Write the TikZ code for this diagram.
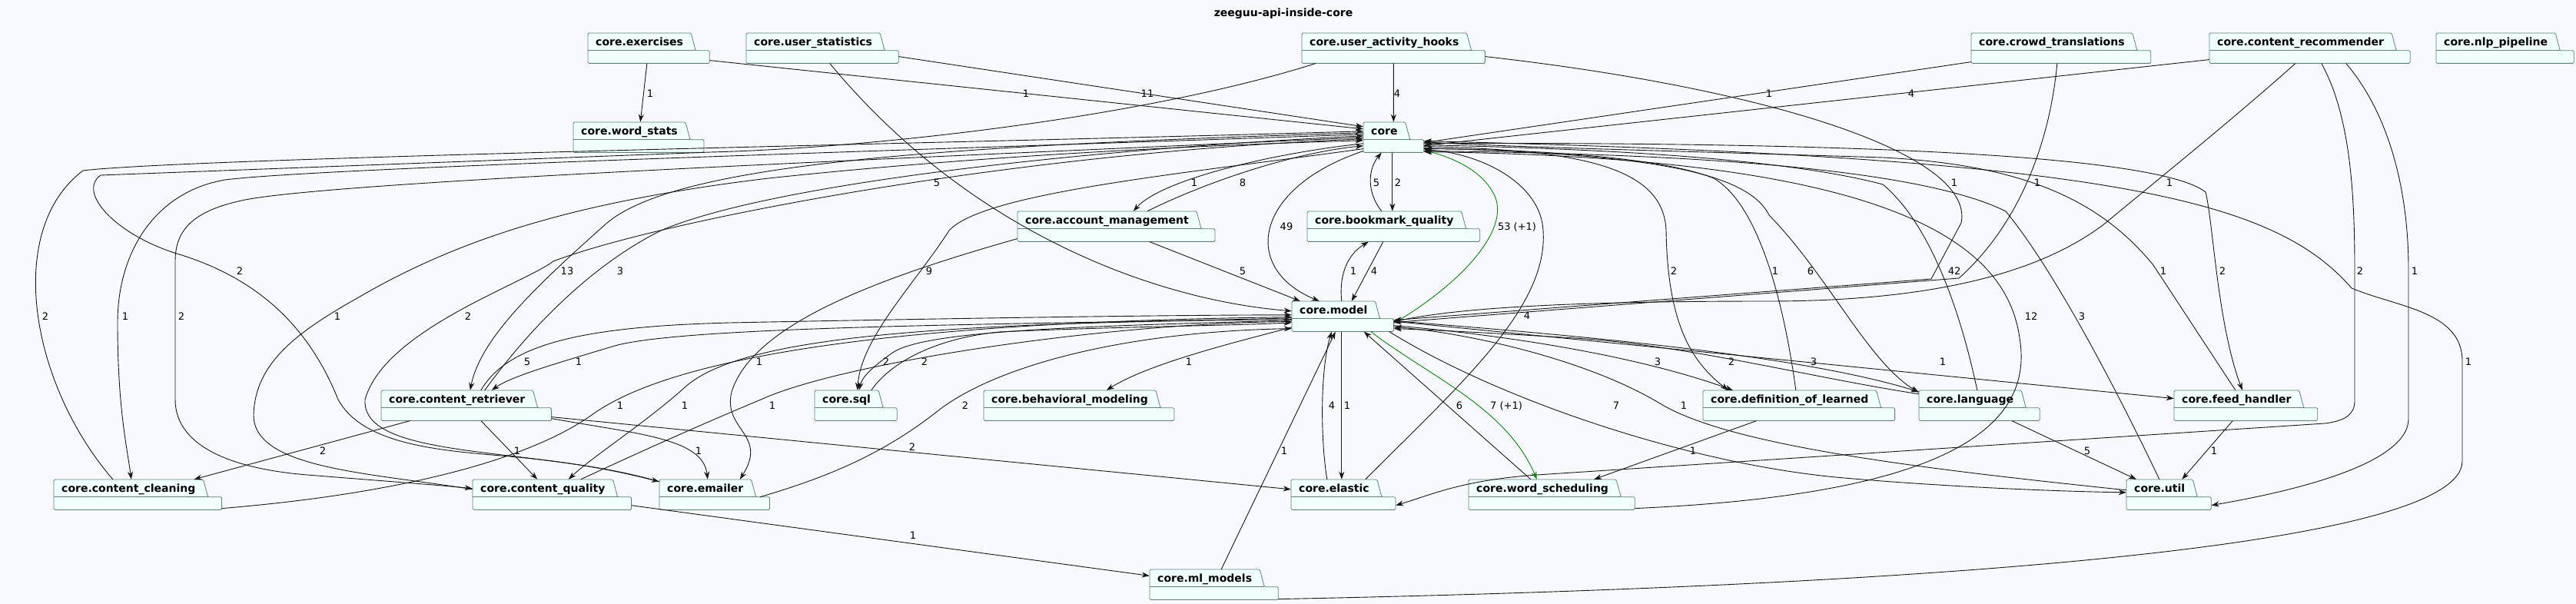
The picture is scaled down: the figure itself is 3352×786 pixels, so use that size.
\documentclass[tikz,border=0pt]{standalone}
\usepackage{fontspec}
\setmainfont{DejaVu Sans}
\usetikzlibrary{arrows.meta,calc,fit}
\definecolor{bgc}{RGB}{248,249,254}
\definecolor{pkgfill}{RGB}{241,255,254}
\definecolor{pkgline}{RGB}{96,128,112}
\definecolor{edgec}{RGB}{24,24,24}
\definecolor{grn}{RGB}{16,128,16}
\pgfdeclarelayer{bgl}
\pgfdeclarelayer{pkgl}
\pgfsetlayers{bgl,pkgl,main}
\tikzset{
  pkgtab/.style={font=\bfseries\fontsize{14}{16}\selectfont, inner xsep=10pt, inner ysep=0pt,
    minimum height=22.4pt, text height=12pt, text depth=2pt, anchor=north west},
  pkgshape/.style={fill=pkgfill, draw=pkgline, line width=0.8pt, rounded corners=1.5pt},
  pkgsep/.style={draw=pkgline, line width=0.8pt},
  dep/.style={draw=edgec, line width=0.9pt, -{Stealth[length=10pt,width=7pt,inset=3pt]}},
  gdep/.style={dep, draw=grn},
  lbl/.style={font=\fontsize{13}{15}\selectfont, inner sep=0pt, text=black}
}
\newcommand\mkpkg[4]{%
  \node[pkgtab] (#1-t) at (#2,#3) {#4};
  \coordinate (#1-sr) at ($(#1-t.south east)+(6,0)$);
  \coordinate (#1-br) at ($(#1-t.south east)+(24,16.6)$);
  \begin{pgfonlayer}{pkgl}
    \path[pkgshape] (#1-t.north west) -- (#1-t.north east) -- (#1-sr) -- ($(#1-sr)+(18,0)$)
      -- (#1-br) -- (#1-t.south west |- #1-br) -- cycle;
    \draw[pkgsep] (#1-t.south west) -- (#1-sr);
  \end{pgfonlayer}
  \node[fit=(#1-t)(#1-br), inner sep=0pt] (#1) {};
}
\begin{document}
\begin{tikzpicture}[x=1pt,y=-1pt]
\useasboundingbox (0,0) rectangle (3352,786);
\begin{pgfonlayer}{bgl}
  \fill[bgc] (0,0) rectangle (3352,786);
\end{pgfonlayer}

\node[font=\bfseries\fontsize{14}{16}\selectfont] (title) at (1670,18) {zeeguu-api-inside-core};

% packages
\mkpkg{exercises}{765}{43}{core.exercises}
\mkpkg{ustats}{971}{43}{core.user\_statistics}
\mkpkg{uahooks}{1694}{43}{core.user\_activity\_hooks}
\mkpkg{crowd}{2565}{43}{core.crowd\_translations}
\mkpkg{recommender}{2875}{43}{core.content\_recommender}
\mkpkg{nlp}{3170}{43}{core.nlp\_pipeline}
\mkpkg{wordstats}{746}{159}{core.word\_stats}
\mkpkg{core}{1774}{159}{core}
\mkpkg{account}{1324}{275}{core.account\_management}
\mkpkg{bookmark}{1701}{275}{core.bookmark\_quality}
\mkpkg{model}{1681}{392}{core.model}
\mkpkg{retriever}{496}{508}{core.content\_retriever}
\mkpkg{sql}{1060}{508}{core.sql}
\mkpkg{behavioral}{1280}{508}{core.behavioral\_modeling}
\mkpkg{defl}{2216}{508}{core.definition\_of\_learned}
\mkpkg{language}{2497}{508}{core.language}
\mkpkg{feed}{2829}{508}{core.feed\_handler}
\mkpkg{cleaning}{70}{624}{core.content\_cleaning}
\mkpkg{quality}{615}{624}{core.content\_quality}
\mkpkg{emailer}{858}{624}{core.emailer}
\mkpkg{elastic}{1680}{624}{core.elastic}
\mkpkg{sched}{1911}{624}{core.word\_scheduling}
\mkpkg{util}{2767}{624}{core.util}
\mkpkg{mlmodels}{1496}{741}{core.ml\_models}

% edges: top row
\draw[dep] (exercises) -- (wordstats);
\draw[dep] ($(exercises.south east)+(0,-4)$) -- ($(core.north west)+(0,9)$);
\draw[dep] ($(ustats.south east)+(0,-9)$) -- ($(core.north west)+(0,6)$);
\draw[dep] (uahooks) -- (core);
\draw[dep] ($(crowd.south west)+(0,-2)$) -- ($(core.south east)+(0,-13)$);
\draw[dep] ($(recommender.south west)+(0,-5)$) -- ($(core.south east)+(0,-9)$);
\draw[dep] ($(ustats.south west)+(109,0)$) .. controls (1260,300) and (1500,390) .. ($(model.north west)+(0,13)$);
\draw[dep] ($(uahooks.south west)+(18,0)$) .. controls (1500,150) and (1150,192) .. (925,198) -- (131,228)
  .. controls (100,250) and (150,305) .. (230,330) .. controls (330,360) and (400,420) .. (440,520)
  .. controls (470,575) and (560,585) .. (640,592) .. controls (740,600) and (800,612) .. ($(emailer.north west)+(0,3)$);

% far left
\draw[dep] ($(cleaning.north west)+(77,0)$) .. controls (40,500) and (5,300) .. (108,222)
  .. controls (250,205) and (1300,185) .. ($(core.north west)+(0,12)$);
\draw[dep] ($(core.north west)+(0,16)$) .. controls (1200,195) and (420,218) .. (293,234)
  .. controls (200,250) and (153,330) .. (153,420) .. controls (153,530) and (165,580) .. ($(cleaning.north west)+(101,0)$);
\draw[dep] ($(core.north west)+(0,20)$) .. controls (1200,205) and (450,235) .. (319,260)
  .. controls (250,274) and (228,300) .. (228,340) -- (228,520)
  .. controls (228,580) and (300,610) .. (400,618) .. controls (500,626) and (580,632) .. ($(quality.north west)+(0,12)$);
\draw[dep] ($(quality.north west)+(0,13)$) .. controls (480,615) and (330,610) .. (330,540)
  .. controls (332,470) and (390,430) .. (470,385) .. controls (600,310) and (750,262) .. (1000,232)
  .. controls (1300,200) and (1600,188) .. ($(core.north west)+(0,24)$);
\draw[dep] ($(emailer.north west)+(0,3)$) .. controls (700,580) and (470,600) .. (475,520)
  .. controls (500,430) and (680,370) .. (720,340) .. controls (850,290) and (1300,200) .. ($(core.north west)+(0,22)$);
\draw[dep] ($(core.north west)+(0,14)$) .. controls (1200,190) and (880,215) .. (790,290)
  .. controls (700,370) and (625,440) .. ($(retriever.north west)+(116,0)$);
\draw[dep] ($(retriever.north west)+(135,0)$) .. controls (680,440) and (760,350) .. (860,300)
  .. controls (1000,240) and (1400,195) .. ($(core.north west)+(0,18)$);

% model <-> rank 4 left
\draw[dep] ($(retriever.north west)+(130,0)$) .. controls (660,450) and (750,425) .. (950,420)
  .. controls (1200,415) and (1500,410) .. ($(model.north west)+(0,18)$);
\draw[dep] ($(model.north west)+(0,22)$) .. controls (1400,422) and (900,422) .. (800,450)
  .. controls (720,474) and (665,490) .. ($(retriever.north west)+(144,0)$);
\draw[dep] ($(model.north west)+(0,25)$) .. controls (1400,425) and (1200,430) .. (1160,460)
  .. controls (1135,478) and (1122,490) .. ($(sql.north west)+(58,0)$);
\draw[dep] ($(sql.north west)+(74,0)$) .. controls (1160,470) and (1220,440) .. (1300,432)
  .. controls (1450,425) and (1600,424) .. ($(model.north west)+(0,28)$);
\draw[dep] ($(core.south west)+(0,-5)$) .. controls (1550,225) and (1280,250) .. (1235,300)
  .. controls (1190,370) and (1120,440) .. ($(sql.north west)+(56,0)$);
\draw[dep] ($(model.north west)+(0,34)$) .. controls (1630,440) and (1500,470) .. ($(behavioral.north west)+(160,0)$);

% core <-> rank 2, model
\draw[dep] ($(core.north west)+(0,28)$) .. controls (1650,200) and (1510,235) .. ($(account.north west)+(151,0)$);
\draw[dep] ($(account.north west)+(169,0)$) .. controls (1580,232) and (1690,198) .. ($(core.north west)+(0,31)$);
\draw[dep] ($(bookmark.north west)+(97,0)$) .. controls (1778,250) and (1780,220) .. ($(core.south west)+(24,0)$);
\draw[dep] ($(core.south west)+(38,0)$) -- ($(bookmark.north west)+(111,0)$);
\draw[dep] ($(account.south west)+(172,0)$) -- ($(model.north west)+(11,0)$);
\draw[dep] ($(model.north west)+(65,0)$) .. controls (1742,355) and (1755,330) .. ($(bookmark.south west)+(80,0)$);
\draw[dep] ($(bookmark.south west)+(99,0)$) -- ($(model.north west)+(78,0)$);
\draw[dep] ($(core.south west)+(0,-2)$) .. controls (1630,245) and (1615,350) .. ($(model.north west)+(36,0)$);
\draw[gdep] ($(model.south east)+(0,-11)$) .. controls (1900,370) and (1965,300) .. (1945,255)
  .. controls (1930,222) and (1890,205) .. ($(core.south east)+(0,-3)$);

% core <-> right rank 4/5
\draw[dep] ($(core.south east)+(0,-8)$) .. controls (2050,195) and (2165,215) .. (2168,300)
  .. controls (2170,420) and (2200,470) .. ($(defl.north west)+(33,0)$);
\draw[dep] ($(defl.north west)+(121,0)$) .. controls (2325,420) and (2295,270) .. (2230,232)
  .. controls (2150,200) and (1950,194) .. ($(core.south east)+(0,-5)$);
\draw[dep] ($(core.south east)+(0,-6)$) .. controls (2100,200) and (2270,215) .. (2302,280)
  .. controls (2380,360) and (2430,470) .. ($(language.north west)+(0,3)$);
\draw[dep] ($(language.north west)+(76,0)$) .. controls (2550,400) and (2510,290) .. (2450,240)
  .. controls (2300,200) and (2000,192) .. ($(core.south east)+(0,-10)$);
\draw[dep] ($(core.south east)+(0,-12)$) .. controls (2300,185) and (2800,195) .. (2870,250)
  .. controls (2880,290) and (2885,420) .. ($(feed.north west)+(89,0)$);
\draw[dep] ($(feed.north west)+(80,0)$) -- (2802,345) .. controls (2740,270) and (2650,215) .. (2450,205)
  .. controls (2200,197) and (1950,191) .. ($(core.south east)+(0,-14)$);
\draw[dep] ($(sched.south east)+(0,-2)$) .. controls (2500,645) and (2650,570) .. (2628,440)
  .. controls (2610,310) and (2450,205) .. ($(core.south east)+(0,-1)$);
\draw[dep] ($(util.north west)+(43,0)$) .. controls (2770,540) and (2680,360) .. (2610,275)
  .. controls (2480,210) and (2100,199) .. ($(core.south east)+(0,-2)$);
\draw[dep] ($(elastic.north west)+(97,0)$) .. controls (1900,500) and (2015,400) .. (2008,300)
  .. controls (2005,240) and (1930,200) .. ($(core.south east)+(0,-4)$);
\draw[dep] ($(mlmodels.south east)+(0,-1)$) .. controls (2400,765) and (3204,720) .. (3204,600) -- (3204,470)
  .. controls (3204,405) and (3120,400) .. (3060,375) .. controls (2960,260) and (2750,205) .. ($(core.south east)+(0,-15)$);

% top row -> model / rank 5 on the right
\draw[dep] ($(recommender.south west)+(112,0)$) .. controls (2900,160) and (2800,240) .. (2740,290)
  .. controls (2650,360) and (2500,392) .. (2300,392) .. controls (2050,392) and (1900,400) .. ($(model.south east)+(0,-13)$);
\draw[dep] ($(uahooks.south east)+(0,-9)$) .. controls (2300,115) and (2570,200) .. (2552,290) -- (2513,363)
  -- ($(model.south east)+(0,-15)$);
\draw[dep] ($(crowd.south west)+(112,0)$) .. controls (2668,180) and (2630,290) .. (2549,362)
  -- ($(model.south east)+(0,-12)$);
\draw[dep] ($(recommender.south west)+(146,0)$) .. controls (3058,150) and (3064,250) .. (3064,350) -- (3064,522)
  .. controls (3064,540) and (3050,548) .. (3025,551) -- (2000,618) .. controls (1900,625) and (1860,645) .. ($(elastic.south east)+(0,-6)$);
\draw[dep] ($(recommender.south west)+(178,0)$) .. controls (3110,150) and (3134,250) .. (3134,350) -- (3134,545)
  .. controls (3134,610) and (2950,645) .. ($(util.south east)+(0,-6)$);

% model <-> right rank 4/5
\draw[dep] ($(model.south east)+(0,-8)$) .. controls (2000,440) and (2150,470) .. ($(defl.north west)+(39,0)$);
\draw[dep] ($(language.north west)+(0,5)$) .. controls (2350,490) and (2200,450) .. (2050,440)
  .. controls (1950,434) and (1880,430) .. ($(model.south east)+(0,-4)$);
\draw[dep] ($(model.south east)+(0,-14)$) .. controls (2100,440) and (2350,465) .. ($(language.north west)+(0,2)$);
\draw[dep] (model) -- (feed);
\draw[dep] ($(model.south east)+(-6,0)$) .. controls (1950,520) and (2200,605) .. (2400,622)
  .. controls (2550,635) and (2700,640) .. ($(util.north west)+(0,17)$);
\draw[dep] ($(util.north west)+(0,14)$) .. controls (2500,610) and (2250,580) .. (2160,525)
  .. controls (2060,465) and (1900,432) .. ($(model.south east)+(0,-6)$);
\draw[dep] ($(sched.north west)+(81,0)$) -- ($(model.south east)+(-39,0)$);
\draw[gdep] ($(model.south east)+(-30,0)$) .. controls (1860,490) and (1960,530) .. ($(sched.north west)+(89,0)$);
\draw[dep] ($(elastic.north west)+(47,0)$) .. controls (1718,570) and (1718,480) .. ($(model.south west)+(52,0)$);
\draw[dep] ($(model.south west)+(65,0)$) -- ($(elastic.north west)+(66,0)$);
\draw[dep] (mlmodels) -- (model);

% model <-> left rank 5
\draw[dep] ($(emailer.north east)+(-13,23)$) .. controls (1080,620) and (1150,590) .. (1220,535)
  .. controls (1290,480) and (1450,432) .. ($(model.south west)+(0,-4)$);
\draw[dep] ($(quality.north west)+(141,0)$) .. controls (850,580) and (930,545) .. (990,520)
  .. controls (1100,470) and (1450,420) .. ($(model.south west)+(0,-13)$);
\draw[dep] ($(model.south west)+(0,-16)$) .. controls (1200,420) and (960,440) .. (890,505)
  .. controls (840,550) and (770,595) .. ($(quality.north west)+(125,0)$);
\draw[dep] ($(cleaning.south east)+(0,-2)$) .. controls (550,640) and (700,590) .. (770,540)
  .. controls (860,475) and (1100,420) .. ($(model.south west)+(0,-19)$);
\draw[dep] ($(account.south west)+(0,-4)$) .. controls (1150,360) and (980,420) .. (952,510)
  .. controls (940,560) and (1000,565) .. ($(emailer.north west)+(105,0)$);

% rank 4 -> 5 -> 6
\draw[dep] (retriever) -- (cleaning);
\draw[dep] (retriever) -- (quality);
\draw[dep] ($(retriever.south east)+(0,-3)$) .. controls (830,565) and (915,570) .. ($(emailer.north west)+(63,0)$);
\draw[dep] ($(retriever.south east)+(0,-5)$) -- ($(elastic.north west)+(0,13)$);
\draw[dep] (defl) -- (sched);
\draw[dep] (language) -- (util);
\draw[dep] (feed) -- (util);
\draw[dep] (quality) -- (mlmodels);

% labels
\node[lbl] (l1) at (846,122) {1};
\node[lbl] (l2) at (1335,122) {1};
\node[lbl] (l3) at (1493,122) {11};
\node[lbl] (l4) at (1818,122) {4};
\node[lbl] (l5) at (2302,122) {1};
\node[lbl] (l6) at (2487,122) {4};
\node[lbl] (l7) at (1219,238) {5};
\node[lbl] (l8) at (312,353) {2};
\node[lbl] (l9) at (59,412) {2};
\node[lbl] (l10) at (163,412) {1};
\node[lbl] (l11) at (236,412) {2};
\node[lbl] (l12) at (439,412) {1};
\node[lbl] (l13) at (609,412) {2};
\node[lbl] (l14) at (738,353) {13};
\node[lbl] (l15) at (807,353) {3};
\node[lbl] (l16) at (686,471) {5};
\node[lbl] (l17) at (753,471) {1};
\node[lbl] (l18) at (1153,471) {2};
\node[lbl] (l19) at (1203,471) {2};
\node[lbl] (l20) at (1209,353) {9};
\node[lbl] (l21) at (1547,471) {1};
\node[lbl] (l22) at (1554,238) {1};
\node[lbl] (l23) at (1617,238) {8};
\node[lbl] (l24) at (1791,238) {5};
\node[lbl] (l25) at (1819,238) {2};
\node[lbl] (l26) at (1617,353) {5};
\node[lbl] (l27) at (1761,353) {1};
\node[lbl] (l28) at (1788,353) {4};
\node[lbl] (l29) at (1674,295) {49};
\node[lbl] (l30) at (1974,295) {53 (+1)};
\node[lbl] (l31) at (2178,353) {2};
\node[lbl] (l32) at (2310,353) {1};
\node[lbl] (l33) at (2356,353) {6};
\node[lbl] (l34) at (2543,353) {42};
\node[lbl] (l35) at (2892,353) {2};
\node[lbl] (l36) at (2815,353) {1};
\node[lbl] (l37) at (2643,412) {12};
\node[lbl] (l38) at (2709,412) {3};
\node[lbl] (l39) at (1987,411) {4};
\node[lbl] (l40) at (3212,471) {1};
\node[lbl] (l41) at (2823,238) {1};
\node[lbl] (l42) at (2543,238) {1};
\node[lbl] (l43) at (2651,238) {1};
\node[lbl] (l44) at (3071,353) {2};
\node[lbl] (l45) at (3142,353) {1};
\node[lbl] (l46) at (2157,471) {3};
\node[lbl] (l47) at (2253,471) {2};
\node[lbl] (l48) at (2360,471) {3};
\node[lbl] (l49) at (2528,471) {1};
\node[lbl] (l50) at (2103,528) {7};
\node[lbl] (l51) at (2191,528) {1};
\node[lbl] (l52) at (1899,528) {6};
\node[lbl] (l53) at (1960,528) {7 (+1)};
\node[lbl] (l54) at (1733,528) {4};
\node[lbl] (l55) at (1753,528) {1};
\node[lbl] (l56) at (1671,587) {1};
\node[lbl] (l57) at (1256,528) {2};
\node[lbl] (l58) at (1005,528) {1};
\node[lbl] (l59) at (891,528) {1};
\node[lbl] (l60) at (807,528) {1};
\node[lbl] (l61) at (988,471) {1};
\node[lbl] (l62) at (420,587) {2};
\node[lbl] (l63) at (673,587) {1};
\node[lbl] (l64) at (909,587) {1};
\node[lbl] (l65) at (1187,582) {2};
\node[lbl] (l66) at (2203,587) {1};
\node[lbl] (l67) at (2716,587) {5};
\node[lbl] (l68) at (2881,587) {1};
\node[lbl] (l69) at (1188,697) {1};
\end{tikzpicture}
\end{document}
